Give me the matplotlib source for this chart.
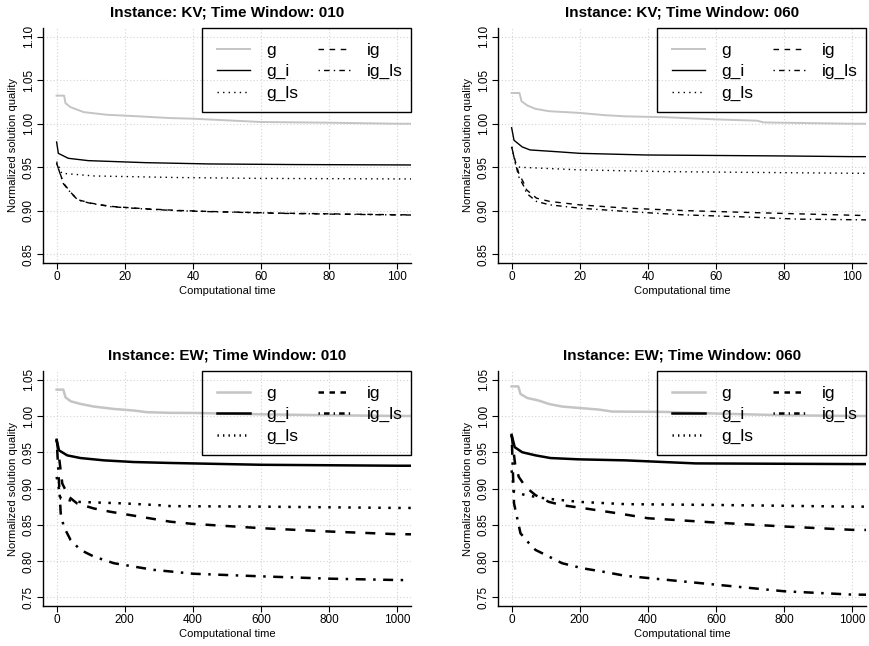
import matplotlib
matplotlib.use("Agg")
import matplotlib.pyplot as plt
from matplotlib.lines import Line2D
from matplotlib.patches import Rectangle

plt.rcParams['font.family'] = ['Liberation Sans', 'DejaVu Sans']

series_names = ["g", "g_i", "g_ls", "ig", "ig_ls"]
titles = ["Instance: KV; Time Window: 010", "Instance: KV; Time Window: 060",
          "Instance: EW; Time Window: 010", "Instance: EW; Time Window: 060"]

# ---- KV, time window 010 ----
kv010_g_t = [0, 2.2, 2.6, 4.1, 8, 14.8, 24.6, 33.4, 40, 50, 60, 80, 100, 106]
kv010_g_v = [1.0323, 1.0323, 1.0236, 1.019, 1.0133, 1.0103, 1.0084, 1.0065, 1.0058, 1.0039, 1.002, 1.0012, 1.0, 1.0]
kv010_gi_t = [0, 0.5, 3.4, 9.3, 26, 45, 70, 100, 106]
kv010_gi_v = [0.979, 0.966, 0.9603, 0.9576, 0.9553, 0.9538, 0.9531, 0.9527, 0.9526]
kv010_gls_t = [0, 1.5, 11, 35.6, 60, 100, 106]
kv010_gls_v = [0.9565, 0.9431, 0.940, 0.9382, 0.9372, 0.9366, 0.9366]
kv010_ig_t = [0, 2, 4.4, 6.3, 10.2, 16, 26, 35.6, 45, 65, 80, 100, 106]
kv010_ig_v = [0.9546, 0.9317, 0.920, 0.9126, 0.9087, 0.905, 0.9023, 0.9004, 0.8992, 0.8973, 0.8965, 0.8954, 0.8953]
kv010_igls_t = [0, 2, 4.4, 6.3, 10.2, 16, 26, 35.6, 45, 65, 80, 100, 106]
kv010_igls_v = [0.9546, 0.931, 0.9195, 0.9122, 0.9083, 0.9047, 0.902, 0.9001, 0.899, 0.8971, 0.8962, 0.8952, 0.8951]

# ---- KV, time window 060 ----
kv060_g_t = [0, 2.3, 2.9, 4.6, 7, 11, 19.7, 27.5, 33.4, 45, 60, 72, 74, 100, 106]
kv060_g_v = [1.0353, 1.0353, 1.0259, 1.021, 1.0171, 1.0144, 1.0125, 1.0098, 1.0085, 1.0075, 1.005, 1.0035, 1.0015, 1.0, 1.0]
kv060_gi_t = [0, 0.7, 3.1, 5.4, 13.9, 20, 39.5, 79.5, 100, 106]
kv060_gi_v = [0.9954, 0.981, 0.9734, 0.9699, 0.9677, 0.966, 0.9641, 0.963, 0.9622, 0.9622]
kv060_gls_t = [0, 1.2, 2.4, 20, 45, 100, 106]
kv060_gls_v = [0.9734, 0.9525, 0.950, 0.947, 0.945, 0.9431, 0.9431]
kv060_ig_t = [0, 1, 2.1, 3.6, 4.4, 7.3, 11.2, 20, 33.7, 50, 70, 84, 103, 106]
kv060_ig_v = [0.9734, 0.958, 0.943, 0.9316, 0.924, 0.9145, 0.9107, 0.9068, 0.903, 0.9003, 0.898, 0.8965, 0.8946, 0.8945]
kv060_igls_t = [0, 1.1, 2.1, 3.6, 4.4, 7.3, 11.2, 20, 33.7, 50, 70, 84, 103, 106]
kv060_igls_v = [0.9734, 0.955, 0.939, 0.928, 0.920, 0.9107, 0.9068, 0.903, 0.8992, 0.8954, 0.8927, 0.8904, 0.8896, 0.8895]

# ---- EW, time window 010 ----
ew010_g_t = [0, 19.5, 26, 41, 70, 109, 168, 226, 265, 334, 400, 600, 800, 1000, 1060]
ew010_g_v = [1.0363, 1.0363, 1.0258, 1.0203, 1.0166, 1.013, 1.0097, 1.0075, 1.0052, 1.0043, 1.0042, 1.0023, 1.001, 1.0, 1.0]
ew010_gi_t = [0, 7, 31, 70, 139, 226, 334, 600, 1000, 1060]
ew010_gi_v = [0.9672, 0.9526, 0.9457, 0.942, 0.9388, 0.9365, 0.9352, 0.9327, 0.9314, 0.9314]
ew010_gls_t = [0, 12, 60, 200, 300, 334, 600, 800, 1000, 1060]
ew010_gls_v = [0.916, 0.8862, 0.8816, 0.8794, 0.877, 0.8757, 0.875, 0.8741, 0.8732, 0.8732]
ew010_ig_t = [0, 7, 16.6, 36, 60, 109, 158, 246, 334, 400, 600, 800, 1000, 1060]
ew010_ig_v = [0.9672, 0.9434, 0.9068, 0.8885, 0.8794, 0.8725, 0.8679, 0.861, 0.8542, 0.8512, 0.8453, 0.8407, 0.837, 0.8368]
ew010_igls_t = [0, 12, 21, 41, 70, 109, 168, 226, 285, 334, 400, 600, 800, 1000, 1030]
ew010_igls_v = [0.9672, 0.8656, 0.8473, 0.829, 0.8153, 0.8062, 0.797, 0.7924, 0.7878, 0.7856, 0.7825, 0.7789, 0.7757, 0.7738, 0.7737]

# ---- EW, time window 060 ----
ew060_g_t = [0, 19.5, 26, 46, 80, 109, 148, 207, 256, 295, 450, 600, 800, 1000, 1060]
ew060_g_v = [1.0408, 1.0408, 1.0303, 1.0248, 1.0212, 1.0166, 1.013, 1.0107, 1.0088, 1.0061, 1.0056, 1.0033, 1.001, 1.0, 1.0]
ew060_gi_t = [0, 9, 31, 70, 114, 197, 334, 540, 1000, 1060]
ew060_gi_v = [0.974, 0.957, 0.950, 0.9457, 0.942, 0.9402, 0.9388, 0.9346, 0.9337, 0.9337]
ew060_gls_t = [0, 7, 41, 100, 197, 334, 600, 1000, 1060]
ew060_gls_v = [0.925, 0.8954, 0.8908, 0.8862, 0.8816, 0.8784, 0.8773, 0.875, 0.875]
ew060_ig_t = [0, 10, 21, 41, 70, 109, 148, 216, 314, 400, 600, 800, 1000, 1060]
ew060_ig_v = [0.974, 0.9343, 0.916, 0.9022, 0.8908, 0.8816, 0.877, 0.8725, 0.8656, 0.859, 0.853, 0.8476, 0.843, 0.8428]
ew060_igls_t = [0, 7, 26, 51, 70, 100, 148, 207, 265, 334, 400, 600, 800, 1000, 1060]
ew060_igls_v = [0.974, 0.8794, 0.8382, 0.8245, 0.8153, 0.8084, 0.797, 0.7901, 0.7856, 0.7796, 0.7766, 0.7674, 0.7583, 0.7537, 0.7535]

panels = [
    [(kv010_g_t, kv010_g_v), (kv010_gi_t, kv010_gi_v), (kv010_gls_t, kv010_gls_v),
     (kv010_ig_t, kv010_ig_v), (kv010_igls_t, kv010_igls_v)],
    [(kv060_g_t, kv060_g_v), (kv060_gi_t, kv060_gi_v), (kv060_gls_t, kv060_gls_v),
     (kv060_ig_t, kv060_ig_v), (kv060_igls_t, kv060_igls_v)],
    [(ew010_g_t, ew010_g_v), (ew010_gi_t, ew010_gi_v), (ew010_gls_t, ew010_gls_v),
     (ew010_ig_t, ew010_ig_v), (ew010_igls_t, ew010_igls_v)],
    [(ew060_g_t, ew060_g_v), (ew060_gi_t, ew060_gi_v), (ew060_gls_t, ew060_gls_v),
     (ew060_ig_t, ew060_ig_v), (ew060_igls_t, ew060_igls_v)],
]

top_xticks = [0, 20, 40, 60, 80, 100]
top_yticks = [0.85, 0.90, 0.95, 1.00, 1.05, 1.10]
bot_xticks = [0, 200, 400, 600, 800, 1000]
bot_yticks = [0.75, 0.80, 0.85, 0.90, 0.95, 1.00, 1.05]

colors = ["#c4c4c4", "black", "black", "black", "black"]
dashes = [None, None, (1, 3), (4, 4), (1, 3, 4, 3)]

W, H = 870, 646
fig = plt.figure(figsize=(W / 100, H / 100), dpi=100)
rects = [
    (43, 28, 411, 263), (498, 28, 866, 263),
    (43, 371, 411, 606), (498, 371, 866, 606),
]

for k, (x0, y0, x1, y1) in enumerate(rects):
    aw, ah = x1 - x0, y1 - y0
    ax = fig.add_axes([x0 / W, 1 - y1 / H, aw / W, ah / H])
    top = k < 2
    lw = 1.0 if top else 1.8
    handles = []
    for i, (t, v) in enumerate(panels[k]):
        kw = dict(color=colors[i], lw=(1.4 if i == 0 else lw) if top else lw)
        line, = ax.plot(t, v, **kw)
        if dashes[i] is not None:
            line.set_dashes(dashes[i])
        h = Line2D([], [], color=colors[i], lw=kw['lw'])
        if dashes[i] is not None:
            if top:
                h.set_dashes(dashes[i])
            else:
                h.set_dashes(tuple(d * 0.55 for d in dashes[i]))
        handles.append(h)
    if top:
        ax.set_xlim(-4, 104)
        ax.set_ylim(0.84, 1.11)
        ax.set_xticks(top_xticks)
        ax.set_yticks(top_yticks)
        ax.set_yticklabels([f"{y:.2f}" for y in top_yticks])
    else:
        ax.set_xlim(-40, 1040)
        ax.set_ylim(0.738, 1.062)
        ax.set_xticks(bot_xticks)
        ax.set_yticks(bot_yticks)
        ax.set_yticklabels([f"{y:.2f}" for y in bot_yticks])
    ax.grid(True, linestyle=(0, (1, 2)), color="#d3d3d3", lw=0.8)
    ax.set_axisbelow(True)
    for s in ["top", "right"]:
        ax.spines[s].set_visible(False)
    for s in ["left", "bottom"]:
        ax.spines[s].set_linewidth(1.0)
    ax.tick_params(direction="out", length=4, width=0.8, labelsize=8.5, pad=2)
    for lab in ax.get_yticklabels():
        lab.set_rotation(90)
        lab.set_va("center")
    ax.set_title(titles[k], fontsize=11, fontweight="bold", pad=8)
    ax.set_xlabel("Computational time", fontsize=8, labelpad=2)
    ax.set_ylabel("Normalized solution quality", fontsize=8, labelpad=3)
    # legend box (R-style, transparent, square)
    box_w, box_h = 209 / aw, 84 / ah
    ax.add_patch(Rectangle((1 - box_w, 1 - box_h), box_w, box_h, transform=ax.transAxes,
                           fill=False, ec="black", lw=1.0, clip_on=False, zorder=4))
    ax.legend(handles, series_names, loc="upper right", ncol=2, fontsize=12.5,
              frameon=False, bbox_to_anchor=(1, 1 - 6 / ah),
              borderaxespad=0, handlelength=1.9, handletextpad=0.9,
              columnspacing=1.15, labelspacing=0.36, borderpad=0.5)

fig.savefig("out.png", dpi=100)
